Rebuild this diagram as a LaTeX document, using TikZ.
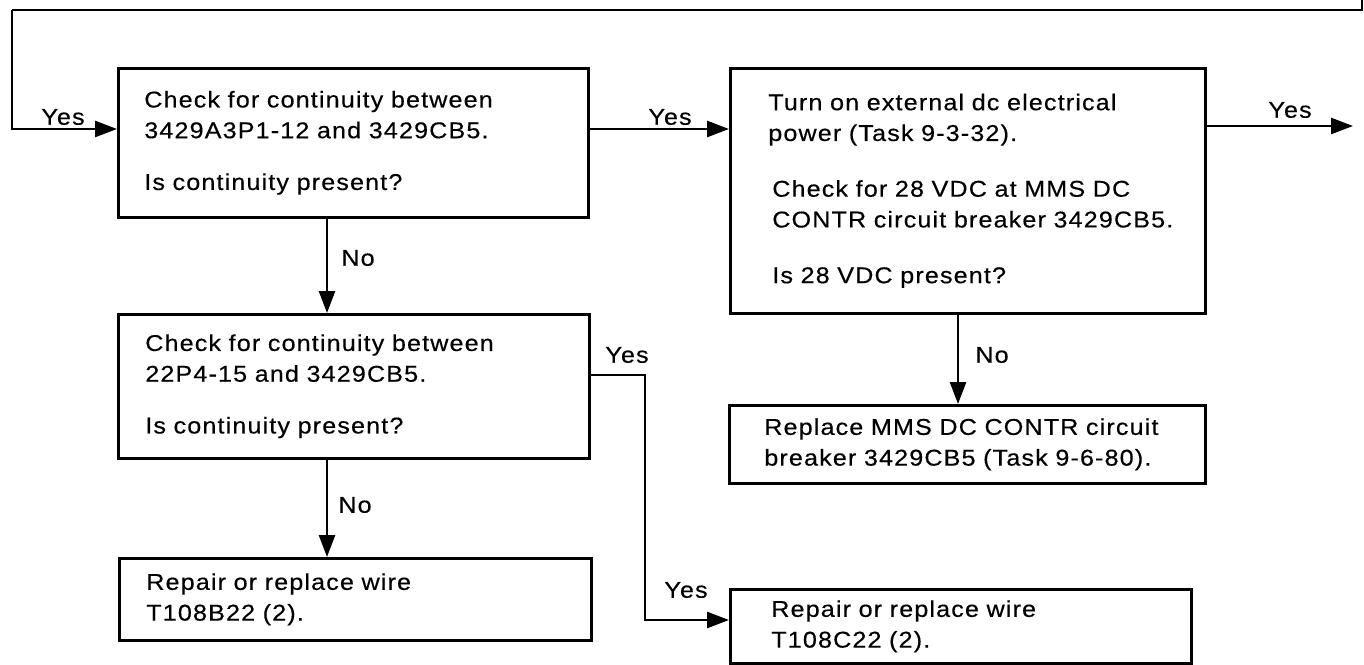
\documentclass[tikz,border=0pt]{standalone}
\usepackage{fontspec}
\setmainfont{Liberation Sans}[FakeStretch=1.1,LetterSpace=5,FakeBold=0.4]
\usetikzlibrary{arrows.meta,positioning}

\begin{document}
\begin{tikzpicture}[
    x=0.02cm, y=-0.02cm,
    box/.style={draw, line width=1.5pt, anchor=north west, align=left, inner ysep=0pt, font=\fontsize{13}{17.5}\selectfont},
    lbl/.style={inner sep=0pt, font=\fontsize{13}{17.5}\selectfont},
    arrow/.style={-{Triangle[length=0.44cm,width=0.32cm]}, line width=1.5pt},
    wire/.style={line width=1.5pt}
  ]
    \useasboundingbox (0,0) rectangle (1364,665);
    \node[box, text width=8.36cm, minimum height=2.98cm, inner xsep=0.52cm] (contA) at (117,67) {Check for continuity between\\3429A3P1-12 and 3429CB5.\\[0.42cm]Is continuity present?};
    \node[box, text width=8.30cm, minimum height=4.90cm, inner xsep=0.60cm] (power) at (729,67) {\hspace*{0.16cm}Turn on external dc electrical\\\hspace*{0.16cm}power (Task 9-3-32).\\[0.5cm]\hspace*{0.24cm}Check for 28 VDC at MMS DC\\\hspace*{0.24cm}CONTR circuit breaker 3429CB5.\\[0.5cm]\hspace*{0.24cm}Is 28 VDC present?};
    \node[box, text width=8.34cm, minimum height=2.88cm, inner xsep=0.54cm] (contB) at (117,313) {Check for continuity between\\22P4-15 and 3429CB5.\\[0.42cm]Is continuity present?};
    \node[box, text width=8.36cm, minimum height=1.64cm, inner xsep=0.54cm] (wireB) at (118,557) {Repair or replace wire\\T108B22 (2).};
    \node[box, text width=8.12cm, minimum height=1.56cm, inner xsep=0.70cm] (breaker) at (728,404) {Replace MMS DC CONTR circuit\\breaker 3429CB5 (Task 9-6-80).};
    \node[box, text width=7.58cm, minimum height=1.48cm, inner xsep=0.82cm] (wireC) at (729,588) {Repair or replace wire\\T108C22 (2).};
    % helper points
    \coordinate (loopin) at (1362,0);
    \coordinate (loopcorner) at (12,10);
    \coordinate (inrow) at (0,129);
    \coordinate (outrow) at (0,126);
    \coordinate (exit) at (1353,126);
    \coordinate (nocolA) at (327,0);
    \coordinate (nocolB) at (958,0);
    \coordinate (yesrow) at (0,375);
    \coordinate (jog) at (645,620);
    % connectors
    \draw[wire] (loopin) |- (loopcorner);
    \draw[arrow] (loopcorner) |- (contA.west |- inrow);
    \draw[arrow] (contA.east |- inrow) -- (power.west |- inrow);
    \draw[arrow] (power.east |- outrow) -- (exit);
    \draw[arrow] (contA.south -| nocolA) -- (contB.north -| nocolA);
    \draw[arrow] (contB.south -| nocolA) -- (wireB.north -| nocolA);
    \draw[arrow] (power.south -| nocolB) -- (breaker.north -| nocolB);
    \draw[arrow] (contB.east |- yesrow) -| (jog) -- (wireC.west |- jog);
    % labels
    \node[lbl] (yesin) at (63,117) {Yes};
    \node[lbl] (yesA) at (670,117) {Yes};
    \node[lbl] (yesout) at (1290,110) {Yes};
    \node[lbl] (noA) at (358,258) {No};
    \node[lbl] (noB) at (355,505) {No};
    \node[lbl] (noC) at (992,355) {No};
    \node[lbl] (yesB) at (627,355) {Yes};
    \node[lbl] (yesC) at (686,590) {Yes};
  \end{tikzpicture}
\end{document}
